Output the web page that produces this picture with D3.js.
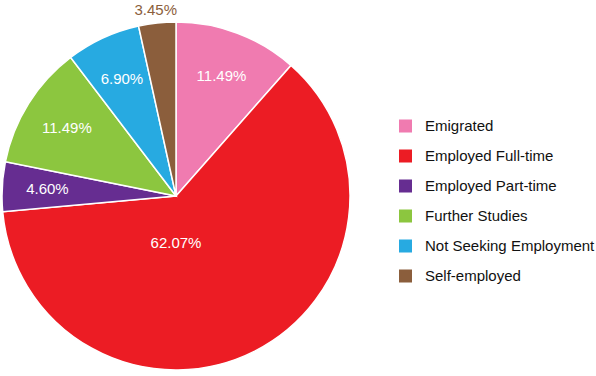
<!DOCTYPE html>
<html>
<head>
<meta charset="utf-8">
<script src="https://cdn.jsdelivr.net/npm/d3@7"></script>
<style>
  body { margin: 0; background: #fff; }
  text { font-family: Arial, "Liberation Sans", sans-serif; }
</style>
</head>
<body>
<svg width="596" height="376"></svg>
<script>
// data
var categories = ["Emigrated", "Employed Full-time", "Employed Part-time",
                  "Further Studies", "Not Seeking Employment", "Self-employed"];
var values = [11.49, 62.07, 4.60, 11.49, 6.90, 3.45];
var colors = ["#f07bb0", "#ec1c24", "#662d91", "#8cc63f", "#27aae1", "#8b5e3c"];

var svg = d3.select("svg"),
    width = +svg.attr("width"),
    height = +svg.attr("height");

var cx = 176, cy = 196, radius = 174;

var color = d3.scaleOrdinal().domain(categories).range(colors);

var pie = d3.pie()
    .sort(null)
    .value(function(d) { return d.value; });

var data = categories.map(function(c, i) { return {name: c, value: values[i]}; });
var arcs = pie(data);

var arc = d3.arc().innerRadius(0).outerRadius(radius);
var labelArc = d3.arc().innerRadius(radius * 0.74).outerRadius(radius * 0.74);
var outerArc = d3.arc().innerRadius(radius + 13).outerRadius(radius + 13);

var g = svg.append("g")
    .attr("transform", "translate(" + cx + "," + cy + ")");

g.selectAll("path")
    .data(arcs)
    .enter().append("path")
      .attr("d", arc)
      .attr("fill", function(d) { return color(d.data.name); })
      .attr("stroke", "#fff")
      .attr("stroke-width", 1.5);

// slice labels: small slices go outside, the big one sits lower near the middle
function labelPos(d) {
  var span = d.endAngle - d.startAngle;
  if (span > Math.PI) return [0, radius * 0.27];
  if (d.data.value < 4) return outerArc.centroid(d);
  return labelArc.centroid(d);
}

g.selectAll("text.pct")
    .data(arcs)
    .enter().append("text")
      .attr("class", "pct")
      .attr("transform", function(d) {
        var p = labelPos(d);
        return "translate(" + p[0] + "," + p[1] + ")";
      })
      .attr("dy", "0.35em")
      .attr("text-anchor", "middle")
      .attr("font-size", 15)
      .attr("fill", function(d) { return d.data.value < 4 ? color(d.data.name) : "#fff"; })
      .text(function(d) { return d3.format(".2f")(d.data.value) + "%"; });

// legend
var legend = svg.append("g")
    .attr("transform", "translate(399,126)");

var row = legend.selectAll("g")
    .data(categories)
    .enter().append("g")
      .attr("transform", function(d, i) { return "translate(0," + (i * 30) + ")"; });

row.append("rect")
    .attr("x", 0)
    .attr("y", -6.5)
    .attr("width", 13)
    .attr("height", 13)
    .attr("fill", function(d) { return color(d); });

row.append("text")
    .attr("x", 26)
    .attr("dy", "0.35em")
    .attr("font-size", 15)
    .attr("fill", "#111")
    .text(function(d) { return d; });
</script>
</body>
</html>
